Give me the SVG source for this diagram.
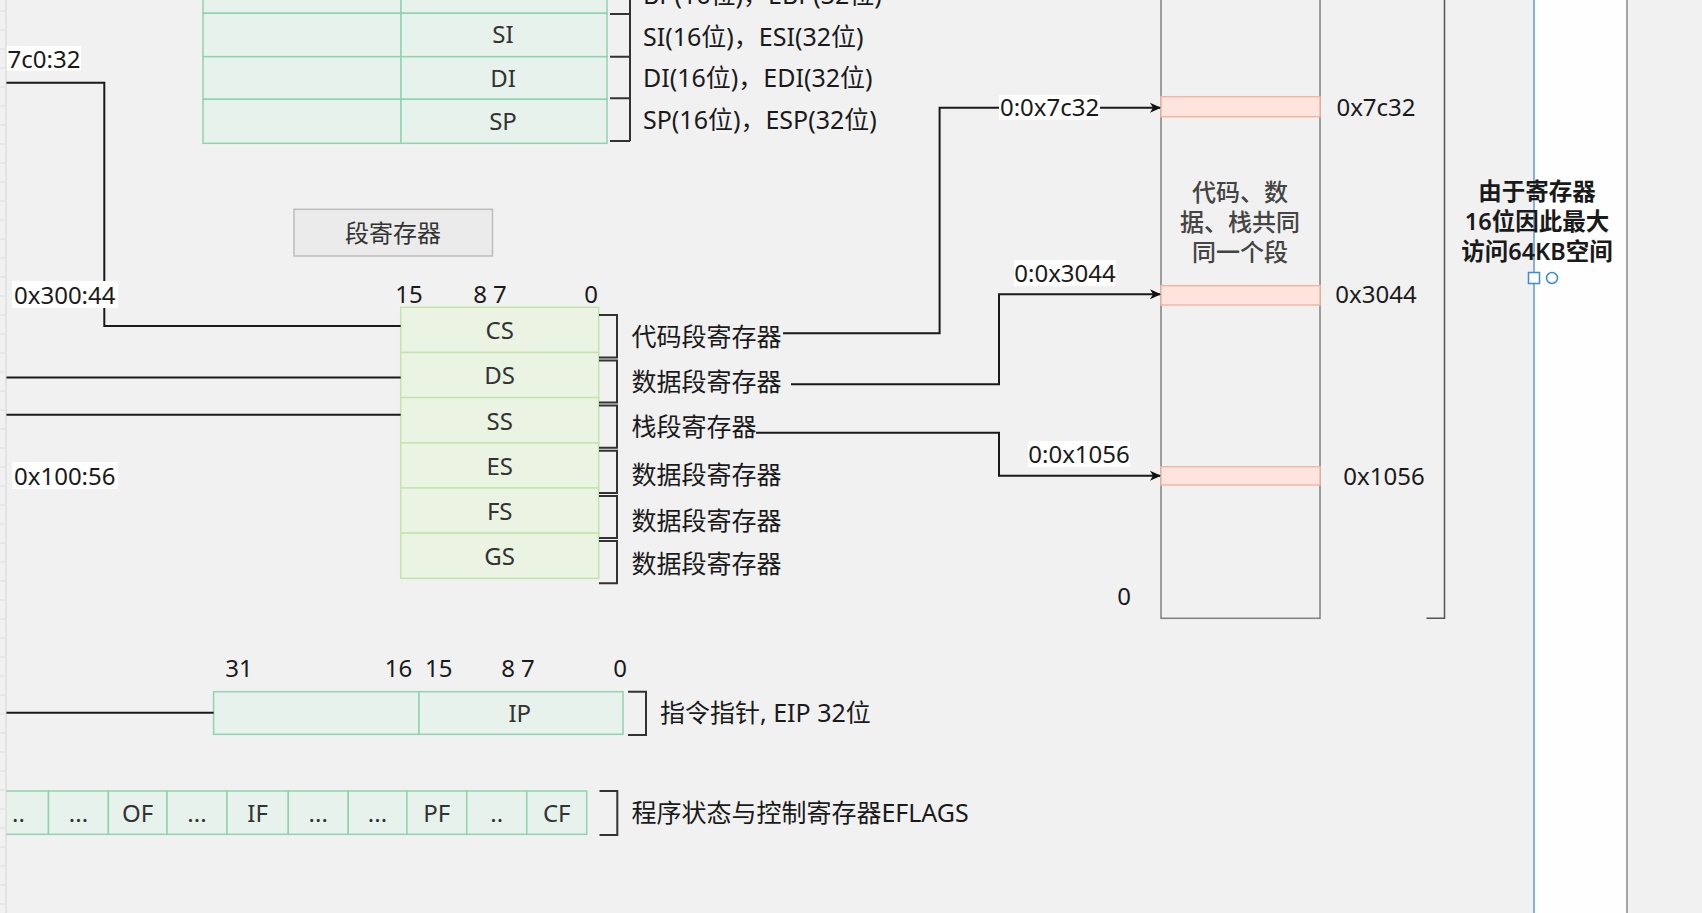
<svg xmlns="http://www.w3.org/2000/svg" width="1702" height="913" viewBox="0 0 1702 913">
<style>
text{font-family:"Noto Sans","Noto Sans CJK SC",sans-serif;font-size:24px;fill:#1a1a1a;dominant-baseline:central}
.c{text-anchor:middle}
.s{font-size:25px}
.reg{fill:#333}
.gp{fill:#e7f2ec;stroke:#8fd3b0;stroke-width:1.5}
.sg{fill:#ebf4e3;stroke:#c3e4ac;stroke-width:1.5}
.br{fill:none;stroke:#333;stroke-width:2}
.ln{fill:none;stroke:#1a1a1a;stroke-width:2}
.pk{fill:#fde4dd;stroke:#f2b7a3;stroke-width:1.5}
.lb{fill:#ffffff}
.mt{fill:#444;font-weight:500}
.nt{font-weight:600;font-size:23.5px}
</style>
<defs>
<marker id="ah" markerWidth="12" markerHeight="12" refX="10" refY="6" orient="auto" markerUnits="userSpaceOnUse">
<path d="M0,1 L11,6 L0,11 L3,6 Z" fill="#111"/>
</marker>
</defs>
<rect x="0" y="0" width="1702" height="913" fill="#f1f1f1"/>
<rect x="1534" y="0" width="93" height="913" fill="#fefefe"/>

<g id="general-registers">
<rect class="gp" x="203" y="-30" width="198" height="43.3"/>
<rect class="gp" x="401" y="-30" width="206" height="43.3"/>
<rect class="gp" x="203" y="13.3" width="198" height="43.4"/>
<rect class="gp" x="401" y="13.3" width="206" height="43.4"/>
<rect class="gp" x="203" y="56.7" width="198" height="42.6"/>
<rect class="gp" x="401" y="56.7" width="206" height="42.6"/>
<rect class="gp" x="203" y="99.3" width="198" height="44"/>
<rect class="gp" x="401" y="99.3" width="206" height="44"/>
<text class="c reg" x="503" y="-10">BP</text>
<text class="c reg" x="503" y="33.5">SI</text>
<text class="c reg" x="503" y="77">DI</text>
<text class="c reg" x="503" y="120.5">SP</text>
<path class="br" d="M630,-30 V141 M610,14 H630 M610,56.7 H630 M610,98.3 H630 M610,141 H630"/>
<text class="s" x="643" y="-6">BP(16位)，EBP(32位)</text>
<text class="s" x="643" y="35.5">SI(16位)，ESI(32位)</text>
<text class="s" x="643" y="77">DI(16位)，EDI(32位)</text>
<text class="s" x="643" y="119">SP(16位)，ESP(32位)</text>
</g>

<g id="seg-title">
<rect x="294" y="209.3" width="198.5" height="46.7" fill="#ebebeb" stroke="#bdbdbd" stroke-width="1.5"/>
<text class="c reg" x="393" y="232.5">段寄存器</text>
</g>

<g id="segment-registers">
<text class="c" x="409" y="293">15</text>
<text class="c" x="490" y="293">8 7</text>
<text class="c" x="591" y="293">0</text>
<rect class="sg" x="400.7" y="307.3" width="198" height="45.2"/>
<rect class="sg" x="400.7" y="352.5" width="198" height="45.1"/>
<rect class="sg" x="400.7" y="397.6" width="198" height="45.2"/>
<rect class="sg" x="400.7" y="442.8" width="198" height="45.2"/>
<rect class="sg" x="400.7" y="488" width="198" height="45.1"/>
<rect class="sg" x="400.7" y="533.1" width="198" height="45.2"/>
<text class="c reg" x="499.7" y="329.5">CS</text>
<text class="c reg" x="499.7" y="374.7">DS</text>
<text class="c reg" x="499.7" y="420">SS</text>
<text class="c reg" x="499.7" y="465.5">ES</text>
<text class="c reg" x="499.7" y="510.8">FS</text>
<text class="c reg" x="499.7" y="555.7">GS</text>
<path class="br" d="M599,315 H617 V357.5 H599 M599,360.5 H617 V402.6 H599 M599,405.6 H617 V447.8 H599 M599,450.8 H617 V493 H599 M599,496 H617 V538.1 H599 M599,541.1 H617 V583.3 H599"/>
<text class="s" x="631.5" y="336.2">代码段寄存器</text>
<text class="s" x="631.5" y="381.2">数据段寄存器</text>
<text class="s" x="631.5" y="426.2">栈段寄存器</text>
<text class="s" x="631.5" y="474">数据段寄存器</text>
<text class="s" x="631.5" y="519.5">数据段寄存器</text>
<text class="s" x="631.5" y="563">数据段寄存器</text>
</g>

<g id="ip-register">
<text class="c" x="239" y="667">31</text>
<text class="c" x="398.6" y="667">16</text>
<text class="c" x="438.8" y="667">15</text>
<text class="c" x="518" y="667">8 7</text>
<text class="c" x="620" y="667">0</text>
<rect class="gp" x="213.6" y="691.7" width="205.4" height="42.6"/>
<rect class="gp" x="419" y="691.7" width="204" height="42.6"/>
<text class="c reg" x="519.8" y="712.7">IP</text>
<path class="br" d="M628,691.7 H646 V735 H628"/>
<text class="s" x="660" y="712.2">指令指针, EIP 32位</text>
</g>

<g id="eflags">
<rect class="gp" x="-11.6" y="791" width="60.1" height="43.3"/>
<rect class="gp" x="48.5" y="791" width="59.9" height="43.3"/>
<rect class="gp" x="108.4" y="791" width="58.6" height="43.3"/>
<rect class="gp" x="167" y="791" width="60" height="43.3"/>
<rect class="gp" x="227" y="791" width="61.3" height="43.3"/>
<rect class="gp" x="288.3" y="791" width="59.9" height="43.3"/>
<rect class="gp" x="348.2" y="791" width="58.7" height="43.3"/>
<rect class="gp" x="406.9" y="791" width="59.9" height="43.3"/>
<rect class="gp" x="466.8" y="791" width="60" height="43.3"/>
<rect class="gp" x="526.8" y="791" width="59.9" height="43.3"/>
<text class="c reg" x="18.5" y="812.7">..</text>
<text class="c reg" x="78.5" y="812.7">...</text>
<text class="c reg" x="137.7" y="812.7">OF</text>
<text class="c reg" x="197" y="812.7">...</text>
<text class="c reg" x="257.6" y="812.7">IF</text>
<text class="c reg" x="318.2" y="812.7">...</text>
<text class="c reg" x="377.5" y="812.7">...</text>
<text class="c reg" x="436.8" y="812.7">PF</text>
<text class="c reg" x="496.8" y="812.7">..</text>
<text class="c reg" x="556.7" y="812.7">CF</text>
<path class="br" d="M599.5,791 H617.3 V835 H599.5"/>
<text class="s" x="631.4" y="812.2">程序状态与控制寄存器EFLAGS</text>
</g>

<g id="memory">
<rect x="1161" y="-5" width="159" height="623.3" fill="none" stroke="#808080" stroke-width="1.5"/>
<rect class="pk" x="1161" y="96.7" width="159" height="20"/>
<rect class="pk" x="1161" y="285.7" width="159" height="19.3"/>
<rect class="pk" x="1161" y="466.7" width="159" height="18.3"/>
<text class="c mt" x="1240" y="191">代码、数</text>
<text class="c mt" x="1240" y="221">据、栈共同</text>
<text class="c mt" x="1240" y="251">同一个段</text>
<text class="c" x="1376" y="106.5">0x7c32</text>
<text class="c" x="1376" y="293.5">0x3044</text>
<text class="c" x="1384" y="475.5">0x1056</text>
<text class="c" x="1124" y="595.5">0</text>
<path d="M1444.5,-5 V618.3 H1426.5" fill="none" stroke="#555" stroke-width="1.5"/>
</g>

<g id="note">
<line x1="1534" y1="0" x2="1534" y2="913" stroke="#5b9bd5" stroke-width="1.5"/>
<line x1="1627" y1="0" x2="1627" y2="913" stroke="#8a8a8a" stroke-width="1.5"/>
<text class="c nt" x="1537" y="191">由于寄存器</text>
<text class="c nt" x="1537" y="221">16位因此最大</text>
<text class="c nt" x="1537" y="251">访问64KB空间</text>
<rect x="1528.5" y="272.5" width="11" height="11" fill="#fff" stroke="#3d8bd8" stroke-width="1.5"/>
<circle cx="1552" cy="278" r="5.5" fill="#fff" stroke="#3d8bd8" stroke-width="1.5"/>
</g>

<g id="connectors">
<path class="ln" d="M6,82.7 H104.3 V326 H400.7"/>
<path class="ln" d="M6,377.4 H400.7"/>
<path class="ln" d="M6,414.8 H400.7"/>
<path class="ln" d="M6,712.7 H213.6"/>
<path class="ln" d="M783,333.3 H939.6 V107.7 H1160" marker-end="url(#ah)"/>
<path class="ln" d="M791,384.3 H999 V294.3 H1160" marker-end="url(#ah)"/>
<path class="ln" d="M756,432.7 H999 V475.7 H1160" marker-end="url(#ah)"/>
<rect class="lb" x="6" y="46" width="75" height="25"/>
<text x="7.5" y="58">7c0:32</text>
<rect class="lb" x="12" y="281" width="106" height="27"/>
<text x="14" y="294">0x300:44</text>
<rect class="lb" x="12" y="462" width="106" height="27"/>
<text x="14" y="475">0x100:56</text>
<rect class="lb" x="999" y="95" width="101" height="25"/>
<text class="c" x="1049.6" y="106.5">0:0x7c32</text>
<rect class="lb" x="1014" y="260" width="102" height="26"/>
<text class="c" x="1065" y="272.2">0:0x3044</text>
<rect class="lb" x="1028" y="441" width="102" height="26"/>
<text class="c" x="1079" y="453.5">0:0x1056</text>
</g>

<g id="ruler">
<rect x="0" y="0" width="6" height="913" fill="#f1f1f1"/>
<line x1="6" y1="0" x2="6" y2="913" stroke="#d4d4d4" stroke-width="1"/>
<path d="M0,11 H5 M0,30 H5 M0,49 H5 M0,68 H5 M0,87 H5 M0,106 H5 M0,125 H5 M0,144 H5 M0,163 H5 M0,182 H5 M0,201 H5 M0,220 H5 M0,239 H5 M0,258 H5 M0,277 H5 M0,296 H5 M0,315 H5 M0,334 H5 M0,353 H5 M0,372 H5 M0,391 H5 M0,410 H5 M0,429 H5 M0,448 H5 M0,467 H5 M0,486 H5 M0,505 H5 M0,524 H5 M0,543 H5 M0,562 H5 M0,581 H5 M0,600 H5 M0,619 H5 M0,638 H5 M0,657 H5 M0,676 H5 M0,695 H5 M0,714 H5 M0,733 H5 M0,752 H5 M0,771 H5 M0,790 H5 M0,809 H5 M0,828 H5 M0,847 H5 M0,866 H5 M0,885 H5 M0,904 H5" stroke="#dcdcdc" stroke-width="1"/>
</g>
</svg>
